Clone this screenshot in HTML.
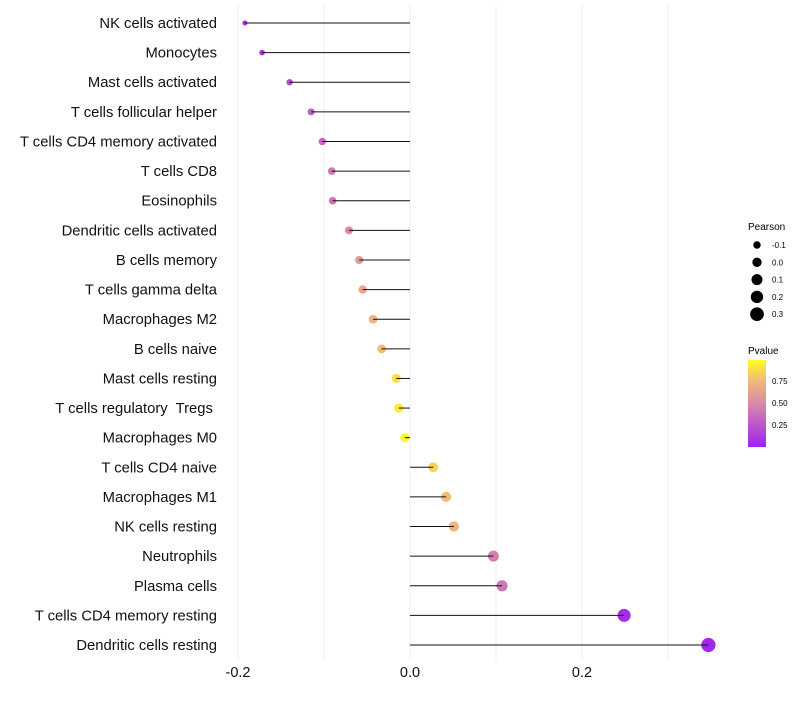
<!DOCTYPE html>
<html><head><meta charset="utf-8"><style>
body{margin:0;background:#fff;font-family:"Liberation Sans",sans-serif}
text{white-space:pre}
</style></head><body>
<svg id="chart" width="800" height="700" xmlns="http://www.w3.org/2000/svg">
<defs><linearGradient id="pg" x1="0" y1="1" x2="0" y2="0">
<stop offset="0" stop-color="#a020f0"/><stop offset="0.5" stop-color="#d98aa6"/><stop offset="0.8" stop-color="#f4c16e"/><stop offset="1" stop-color="#ffff20"/></linearGradient></defs>
<g id="grid"></g><g id="marks"></g><g id="labels"></g>
<g id="legend">
<text x="748" y="230" font-size="10">Pearson</text>
<text x="748" y="354" font-size="10">Pvalue</text>
<rect x="748" y="360" width="18" height="87" fill="url(#pg)"/>
<text x="772" y="384" font-size="8">0.75</text>
<text x="772" y="406" font-size="8">0.50</text>
<text x="772" y="428" font-size="8">0.25</text>
</g>
</svg>
<script>
const categories=["NK cells activated","Monocytes","Mast cells activated","T cells follicular helper","T cells CD4 memory activated","T cells CD8","Eosinophils","Dendritic cells activated","B cells memory","T cells gamma delta","Macrophages M2","B cells naive","Mast cells resting","T cells regulatory  Tregs ","Macrophages M0","T cells CD4 naive","Macrophages M1","NK cells resting","Neutrophils","Plasma cells","T cells CD4 memory resting","Dendritic cells resting"];
const pearson=[-0.192,-0.172,-0.140,-0.115,-0.102,-0.091,-0.090,-0.071,-0.059,-0.055,-0.043,-0.033,-0.016,-0.013,-0.006,0.027,0.042,0.051,0.097,0.107,0.249,0.347];
const pvalue=[0.05,0.12,0.2,0.3,0.35,0.4,0.4,0.5,0.6,0.65,0.72,0.77,0.9,0.93,0.97,0.86,0.77,0.73,0.45,0.4,0.05,0.03];
const xTicks=[-0.2,0.0,0.2];
const xTickLabels=["-0.2","0.0","0.2"];
const gridVals=[-0.2,-0.1,0,0.1,0.2,0.3];
const sizeLegend=[-0.1,0.0,0.1,0.2,0.3];
const NS="http://www.w3.org/2000/svg";
const X=v=>410+v*860;
const Y=i=>23+i*29.62;
const R=p=>Math.sqrt(Math.max(3,22+82*p));
function col(p){const st=[[0,[160,32,240]],[0.5,[217,138,166]],[0.8,[244,193,110]],[1,[255,255,32]]];
for(let k=1;k<st.length;k++){if(p<=st[k][0]){const a=st[k-1],b=st[k],t=(p-a[0])/(b[0]-a[0]);return "rgb("+a[1].map((c,j)=>Math.round(c+(b[1][j]-c)*t)).join(",")+")";}}return "rgb(255,255,32)";}
function mk(t,at,par){const e=document.createElementNS(NS,t);for(const k in at)e.setAttribute(k,at[k]);document.getElementById(par).appendChild(e);return e;}
gridVals.forEach(v=>{const l=mk("line",{x1:X(v),x2:X(v),y1:5,y2:660,stroke:"#efefef","stroke-width":1},"grid");

});
xTicks.forEach((v,i)=>{const t=mk("text",{x:X(v),y:677,"font-size":14.5,"text-anchor":"middle",fill:"#111"},"labels");t.textContent=xTickLabels[i];

});
categories.forEach((c,i)=>{
const t=mk("text",{x:217,y:Y(i)+5,"font-size":14.8,"text-anchor":"end",fill:"#111"},"labels");t.textContent=c;


const p=mk("circle",{cx:X(pearson[i]),cy:Y(i),r:R(pearson[i]),fill:col(pvalue[i])},"marks");


const l=mk("line",{x1:X(0),x2:X(pearson[i]),y1:Y(i),y2:Y(i),stroke:"#111","stroke-width":1},"marks");


});
sizeLegend.forEach((v,i)=>{const y=245+i*17.3;
const c=mk("circle",{cx:757,cy:y,r:R(v),fill:"#000"},"legend");


const t=mk("text",{x:772,y:y+3,"font-size":8},"legend");t.textContent=v.toFixed(1);

});
</script>
</body></html>
